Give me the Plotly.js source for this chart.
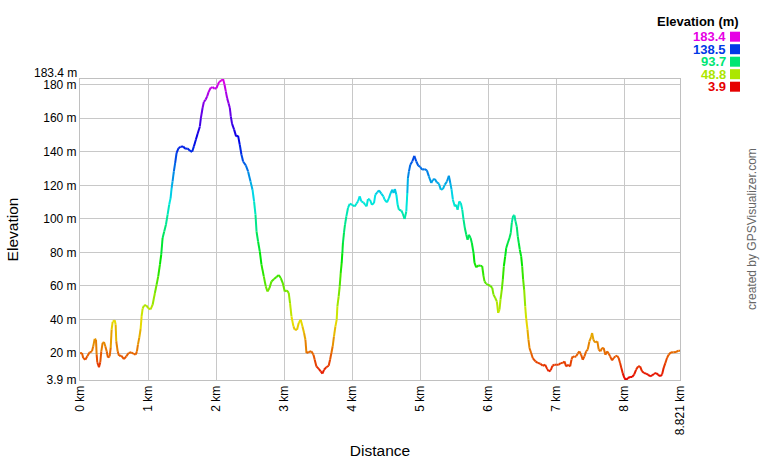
<!DOCTYPE html>
<html><head><meta charset="utf-8">
<script src="https://cdn.plot.ly/plotly-3.0.1.min.js"></script>
<style>html,body{margin:0;padding:0;background:#fff}#chart{width:760px;height:460px}</style>
</head><body><div id="chart"></div>
<script>
const distanceKm = [
0, 0.029, 0.048, 0.078, 0.107, 0.142, 0.176, 0.195, 0.216, 0.235,
0.245, 0.254, 0.279, 0.298, 0.313, 0.333, 0.352, 0.372, 0.392, 0.411,
0.436, 0.451, 0.465, 0.480, 0.510, 0.524, 0.533, 0.554, 0.573, 0.606,
0.646, 0.680, 0.715, 0.753, 0.793, 0.818, 0.837, 0.852, 0.871, 0.891,
0.906, 0.921, 0.940, 0.974, 1.003, 1.038, 1.068, 1.101, 1.126, 1.150,
1.175, 1.194, 1.214, 1.238, 1.263, 1.288, 1.311, 1.332, 1.347, 1.361,
1.380, 1.399, 1.420, 1.449, 1.479, 1.517, 1.546, 1.582, 1.615, 1.649,
1.674, 1.703, 1.728, 1.762, 1.777, 1.802, 1.821, 1.846, 1.869, 1.890,
1.919, 1.949, 1.978, 2.007, 2.026, 2.046, 2.075, 2.104, 2.125, 2.144,
2.163, 2.184, 2.203, 2.217, 2.236, 2.266, 2.295, 2.324, 2.349, 2.374,
2.398, 2.438, 2.471, 2.507, 2.536, 2.559, 2.580, 2.595, 2.618, 2.643,
2.668, 2.702, 2.731, 2.756, 2.786, 2.815, 2.853, 2.888, 2.922, 2.952,
2.981, 3.010, 3.040, 3.069, 3.088, 3.109, 3.138, 3.157, 3.191, 3.216,
3.245, 3.270, 3.294, 3.314, 3.329, 3.363, 3.402, 3.432, 3.451, 3.476,
3.510, 3.539, 3.564, 3.587, 3.623, 3.656, 3.676, 3.696, 3.715, 3.734,
3.755, 3.774, 3.784, 3.803, 3.818, 3.833, 3.847, 3.857, 3.866, 3.881,
3.896, 3.916, 3.940, 3.965, 3.999, 4.038, 4.063, 4.087, 4.112, 4.136,
4.166, 4.195, 4.214, 4.233, 4.263, 4.292, 4.322, 4.342, 4.371, 4.395,
4.430, 4.460, 4.479, 4.513, 4.542, 4.567, 4.592, 4.611, 4.630, 4.651,
4.670, 4.689, 4.724, 4.747, 4.772, 4.797, 4.812, 4.821, 4.836, 4.856,
4.885, 4.915, 4.944, 4.974, 5.003, 5.032, 5.066, 5.100, 5.129, 5.164,
5.188, 5.217, 5.247, 5.276, 5.305, 5.335, 5.364, 5.394, 5.423, 5.444,
5.463, 5.482, 5.511, 5.532, 5.551, 5.576, 5.599, 5.620, 5.639, 5.658,
5.679, 5.698, 5.717, 5.742, 5.761, 5.786, 5.800, 5.825, 5.855, 5.884,
5.913, 5.932, 5.947, 5.972, 5.996, 6.031, 6.061, 6.079, 6.105, 6.128,
6.148, 6.167, 6.182, 6.201, 6.216, 6.231, 6.251, 6.266, 6.289, 6.314,
6.333, 6.348, 6.368, 6.388, 6.402, 6.421, 6.436, 6.451, 6.466, 6.486,
6.501, 6.515, 6.530, 6.545, 6.559, 6.579, 6.593, 6.608, 6.633, 6.656,
6.696, 6.730, 6.769, 6.803, 6.838, 6.868, 6.891, 6.921, 6.946, 6.975,
7.009, 7.038, 7.068, 7.097, 7.122, 7.147, 7.176, 7.206, 7.225, 7.244,
7.269, 7.294, 7.317, 7.342, 7.367, 7.391, 7.416, 7.441, 7.464, 7.489,
7.514, 7.529, 7.548, 7.573, 7.606, 7.626, 7.651, 7.676, 7.699, 7.724,
7.749, 7.773, 7.793, 7.822, 7.846, 7.871, 7.896, 7.919, 7.940, 7.959,
7.978, 8.003, 8.028, 8.057, 8.087, 8.116, 8.146, 8.175, 8.204, 8.234,
8.263, 8.293, 8.322, 8.351, 8.381, 8.410, 8.439, 8.469, 8.498, 8.528,
8.557, 8.580, 8.605, 8.630, 8.654, 8.689, 8.723, 8.762, 8.800, 8.821
];
const elevationM = [
19.8, 20.0, 17.0, 16.0, 18.0, 20.4, 21.0, 24.0, 28.4, 28.0,
19.0, 14.5, 11.5, 14.5, 21.0, 26.0, 26.6, 24.0, 21.0, 17.3,
18.0, 23.0, 34.0, 38.6, 39.5, 37.0, 27.0, 21.0, 18.4, 18.4,
16.4, 18.0, 20.0, 20.4, 19.4, 19.0, 21.0, 25.0, 29.0, 34.3,
42.0, 46.5, 48.3, 48.5, 46.8, 46.0, 48.8, 55.8, 60.7, 65.7,
72.7, 78.6, 88.6, 92.5, 96.5, 102.5, 108.4, 112.4, 118.4, 122.3,
128.3, 133.3, 139.3, 142.2, 143.0, 143.2, 141.8, 142.0, 140.6, 140.0,
143.2, 147.2, 150.6, 155.1, 160.1, 166.1, 169.7, 171.0, 173.0, 175.6,
178.0, 178.6, 177.6, 178.0, 180.0, 181.6, 182.4, 183.4, 180.0, 176.0,
172.0, 169.0, 166.1, 161.1, 156.6, 153.2, 149.2, 149.6, 144.2, 138.2,
134.2, 131.9, 128.3, 122.3, 117.4, 110.4, 102.5, 92.5, 86.5, 80.6,
72.7, 65.7, 59.7, 56.7, 58.8, 62.7, 64.1, 65.3, 66.5, 64.7,
61.7, 56.7, 57.3, 55.8, 49.8, 41.8, 35.9, 33.9, 33.9, 37.9,
39.9, 35.9, 31.9, 27.9, 20.0, 20.6, 21.0, 19.0, 16.0, 12.0,
10.5, 9.0, 7.7, 10.0, 11.6, 12.4, 16.0, 20.0, 24.0, 29.9,
35.9, 39.9, 47.8, 53.8, 59.7, 67.7, 73.7, 79.6, 85.6, 91.6,
96.5, 101.5, 106.5, 109.0, 108.4, 107.4, 109.0, 110.4, 113.4, 110.4,
109.8, 108.4, 107.4, 111.8, 111.4, 108.4, 109.4, 114.4, 115.8, 117.0,
115.0, 113.4, 111.4, 109.8, 112.4, 115.4, 117.4, 115.4, 117.8, 114.4,
108.4, 105.4, 105.0, 103.0, 99.9, 104.4, 115.4, 124.3, 128.3, 132.3,
134.2, 137.6, 134.2, 131.7, 130.9, 129.3, 129.7, 128.9, 125.3, 121.4,
123.3, 123.8, 121.7, 121.0, 117.4, 117.8, 120.4, 122.3, 125.7, 121.4,
117.4, 111.4, 107.4, 108.4, 105.4, 110.4, 109.4, 105.4, 99.5, 94.5,
90.5, 87.6, 90.5, 88.6, 85.6, 79.6, 73.7, 71.1, 72.1, 72.1,
71.8, 66.0, 62.7, 61.3, 60.7, 60.1, 58.8, 54.8, 52.8, 50.8,
43.9, 45.8, 51.8, 57.7, 63.7, 71.6, 77.6, 82.6, 85.6, 88.6,
91.6, 97.6, 101.9, 102.1, 98.5, 95.5, 89.5, 85.6, 81.6, 77.6,
71.6, 63.7, 57.7, 47.8, 40.8, 33.9, 27.9, 23.0, 20.0, 17.0,
15.0, 14.1, 13.6, 12.4, 13.0, 10.5, 9.1, 9.7, 12.4, 13.0,
13.0, 13.0, 14.0, 14.0, 15.0, 12.0, 13.0, 12.0, 16.0, 18.0,
17.6, 18.0, 19.6, 21.0, 19.0, 16.0, 18.0, 21.0, 22.0, 26.9,
29.5, 31.9, 27.9, 26.3, 26.9, 22.0, 21.0, 23.0, 23.0, 19.0,
21.0, 19.6, 18.0, 15.6, 17.0, 18.0, 18.4, 17.0, 14.0, 11.0,
8.0, 5.1, 3.9, 5.1, 5.7, 5.7, 7.1, 10.0, 12.0, 12.0,
9.1, 8.1, 7.7, 7.1, 6.1, 6.7, 7.5, 8.1, 7.1, 6.1,
7.1, 11.0, 14.0, 17.0, 19.0, 20.4, 20.4, 20.6, 21.4, 21.4
];
const xTickVals = [0, 1, 2, 3, 4, 5, 6, 7, 8, 8.821];
const xTickText = ['0 km', '1 km', '2 km', '3 km', '4 km', '5 km', '6 km', '7 km', '8 km', '8.821 km'];
const yTickVals = [3.9, 20, 40, 60, 80, 100, 120, 140, 160, 180];
const yTickText = ['3.9 m', '20 m', '40 m', '60 m', '80 m', '100 m', '120 m', '140 m', '160 m', '180 m'];
const yMin = 3.9, yMax = 183.4;
const yTopLabel = '183.4 m';
const legendValues = [183.4, 138.5, 93.7, 48.8, 3.9];
const legendLabels = ['183.4', '138.5', '93.7', '48.8', '3.9'];

const FONT = 'Arial, "Liberation Sans", sans-serif';
function elevColor(e) {
  const t = Math.max(0, Math.min(1, (e - yMin) / (yMax - yMin)));
  return 'hsl(' + (300 * t).toFixed(1) + ',100%,45%)';
}

const traces = [];
for (let i = 0; i < distanceKm.length - 1; i++) {
  traces.push({
    type: 'scatter', mode: 'lines',
    x: [distanceKm[i], distanceKm[i + 1]],
    y: [elevationM[i], elevationM[i + 1]],
    line: {color: elevColor((elevationM[i] + elevationM[i + 1]) / 2), width: 2},
    hoverinfo: 'skip', showlegend: false
  });
}

const ML = 80, MT = 79, PW = 600, PH = 301;
const PX = px => (px - ML) / PW;
const PY = py => (MT + PH - py) / PH;

const annotations = [
  {xref: 'paper', yref: 'y', x: 0, y: yMax, xanchor: 'right', yanchor: 'middle', xshift: -2, yshift: 6,
   text: yTopLabel, showarrow: false, borderpad: 0, font: {size: 12, color: '#000', family: FONT}},
  {xref: 'paper', yref: 'paper', x: PX(740), y: PY(21), xanchor: 'right', yanchor: 'middle', borderpad: 0,
   text: '<b>Elevation (m)</b>', showarrow: false, font: {size: 13, color: '#000', family: FONT}},
  {xref: 'paper', yref: 'paper', x: PX(752), y: PY(229), xanchor: 'center', yanchor: 'middle', textangle: -90,
   text: 'created by GPSVisualizer.com', showarrow: false, font: {size: 12, color: '#666', family: FONT}}
];
const shapes = [];
legendValues.forEach((v, i) => {
  const cy = 36.7 + 12.5 * i;
  annotations.push({xref: 'paper', yref: 'paper', x: PX(727), y: PY(cy), xanchor: 'right', yanchor: 'middle', borderpad: 0,
    text: '<b>' + legendLabels[i] + '</b>', showarrow: false, font: {size: 13, color: elevColor(v), family: FONT}});
  shapes.push({type: 'rect', xref: 'paper', yref: 'paper', x0: PX(730), x1: PX(740), y0: PY(cy + 5), y1: PY(cy - 5),
    fillcolor: elevColor(v), line: {width: 0}});
});

const layout = {
  width: 760, height: 460,
  margin: {l: ML, r: 80, t: MT, b: 460 - MT - PH},
  paper_bgcolor: '#fff', plot_bgcolor: '#fff',
  font: {family: FONT, size: 12, color: '#000'},
  showlegend: false,
  xaxis: {
    range: [0, 8.821], tickmode: 'array', tickvals: xTickVals, ticktext: xTickText, tickangle: -90,
    showgrid: true, gridcolor: '#c8c8c8', gridwidth: 1, zeroline: false,
    showline: true, linecolor: '#c0c0c0', linewidth: 1, mirror: true, ticks: '',
    tickfont: {size: 12, color: '#000'},
    title: {text: 'Distance', font: {size: 15.5, color: '#000'}, standoff: 10}
  },
  yaxis: {
    range: [yMin, yMax], tickmode: 'array', tickvals: yTickVals, ticktext: yTickText,
    showgrid: true, gridcolor: '#c8c8c8', gridwidth: 1, zeroline: false,
    showline: true, linecolor: '#c0c0c0', linewidth: 1, mirror: true, ticks: '',
    tickfont: {size: 12, color: '#000'},
    title: {text: 'Elevation', font: {size: 15.5, color: '#000'}, standoff: 20}
  },
  annotations: annotations,
  shapes: shapes
};

Plotly.newPlot('chart', traces, layout, {staticPlot: true, displayModeBar: false});
</script>
</body></html>
